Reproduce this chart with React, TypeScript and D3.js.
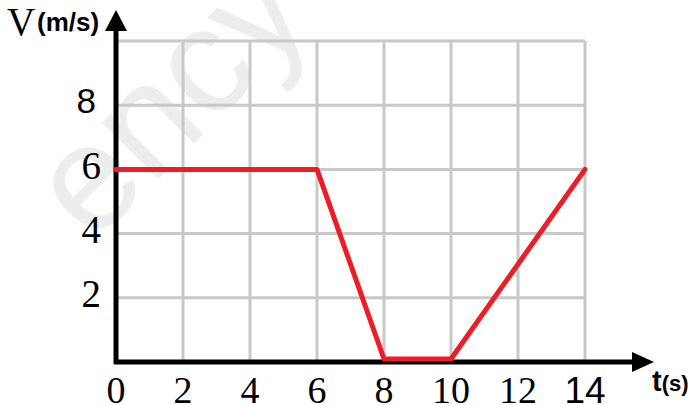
import React from "react";
import * as d3 from "d3";

const times = [0, 6, 8, 10, 14];
const velocity = [6, 6, 0, 0, 6];
const xTicks = [0, 2, 4, 6, 8, 10, 12, 14];
const yTicks = [2, 4, 6, 8];
const xGrid = [0, 2, 4, 6, 8, 10, 12, 14];
const yGrid = [0, 2, 4, 6, 8, 10];

const W = 695;
const H = 405;

export default function App() {
  const x = d3.scaleLinear().domain([0, 14]).range([116, 585]);
  const y = d3.scaleLinear().domain([0, 10]).range([362, 41]);
  const pts: [number, number][] = times.map((t, i) => [t, velocity[i]]);
  const line = d3
    .line<[number, number]>()
    .x((d) => x(d[0]))
    .y((d) => y(d[1]) - (d[1] === 0 ? 3 : 0));
  const serif = "'Liberation Serif', 'Times New Roman', serif";
  const sans = "'Liberation Sans', Arial, sans-serif";
  return (
    <svg
      width={W}
      height={H}
      style={{ position: "absolute", left: 0, top: 0, background: "#fff" }}
    >
      <text
        x={92}
        y={245}
        transform="rotate(-45 92 245)"
        fontFamily={sans}
        fontSize={150}
        fill="#ededed"
      >
        ency
      </text>
      {xGrid.map((g) => (
        <line
          key={"gx" + g}
          x1={x(g)}
          x2={x(g)}
          y1={y(0)}
          y2={y(10)}
          stroke="#c8c8c8"
          strokeWidth={3}
        />
      ))}
      {yGrid.map((g) => (
        <line
          key={"gy" + g}
          x1={x(0)}
          x2={x(14)}
          y1={y(g)}
          y2={y(g)}
          stroke="#c8c8c8"
          strokeWidth={3}
        />
      ))}
      {/* axes */}
      <line x1={x(0)} x2={x(0)} y1={y(0) + 2} y2={26} stroke="#000" strokeWidth={5} />
      <path d={`M ${x(0) - 11} 31 L ${x(0)} 10 L ${x(0) + 11} 31 Z`} fill="#000" />
      <line x1={x(0) - 2} x2={635} y1={y(0)} y2={y(0)} stroke="#000" strokeWidth={5} />
      <path d={`M 632 ${y(0) - 10} L 654 ${y(0)} L 632 ${y(0) + 10} Z`} fill="#000" />
      <path
        d={line(pts) || ""}
        fill="none"
        stroke="#ee1c25"
        strokeWidth={5}
        strokeLinejoin="round"
        strokeLinecap="round"
      />
      {xTicks.map((t) => (
        <text
          key={"xt" + t}
          x={x(t)}
          y={403}
          textAnchor="middle"
          fontFamily={t === 14 ? sans : serif}
          fontSize={t === 14 ? 37 : 38}
          fill="#000"
        >
          {t}
        </text>
      ))}
      {yTicks.map((t) => (
        <text
          key={"yt" + t}
          x={t === 8 ? 96 : 101}
          y={y(t) - 4}
          dy="0.35em"
          textAnchor="end"
          fontFamily={t === 8 ? sans : serif}
          fontSize={t === 8 ? 35 : 39}
          fill="#000"
        >
          {t}
        </text>
      ))}
      <text x={7} y={35} fontFamily={serif} fontSize={39} fill="#000">
        V
      </text>
      <text x={37} y={31} fontFamily={sans} fontSize={26} fontWeight="bold" fill="#000">
        (m/s)
      </text>
      <text x={652} y={391} fontFamily={sans} fontWeight="bold" fill="#000">
        <tspan fontSize={29}>t</tspan>
        <tspan fontSize={22}>(s)</tspan>
      </text>
    </svg>
  );
}
